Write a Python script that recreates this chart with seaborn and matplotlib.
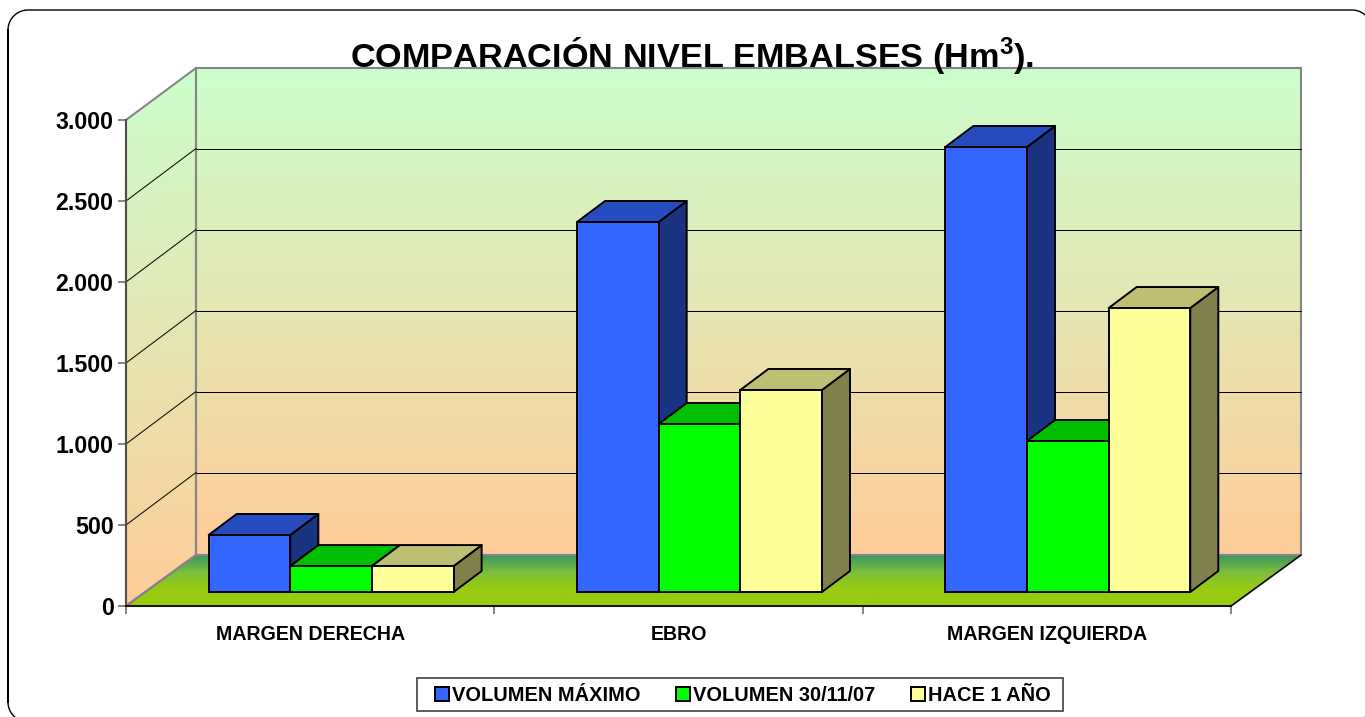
import numpy as np
import pandas as pd
import matplotlib.pyplot as plt
import seaborn as sns
from matplotlib.colors import LinearSegmentedColormap
from matplotlib.lines import Line2D
from matplotlib.patches import Polygon, Rectangle
from matplotlib.transforms import IdentityTransform, ScaledTranslation

# data
zonas = ['MARGEN DERECHA', 'EBRO', 'MARGEN IZQUIERDA']
series = ['VOLUMEN MÁXIMO', 'VOLUMEN 30/11/07', 'HACE 1 AÑO']
vol_maximo = [352, 2284, 2747]
vol_actual = [160, 1037, 932]
vol_hace_1 = [160, 1247, 1753]
y_ticks = [0, 500, 1000, 1500, 2000, 2500, 3000]
y_labels = ['0', '500', '1.000', '1.500', '2.000', '2.500', '3.000']

front_colors = ['#3366FF', '#00FF00', '#FFFF99']
top_colors = ['#264CBF', '#00BF00', '#BFBF73']
side_colors = ['#1A3380', '#008000', '#80804D']

df = pd.DataFrame({
    'zona': zonas * 3,
    'serie': np.repeat(series, 3),
    'volumen': vol_maximo + vol_actual + vol_hace_1,
})

sns.set_style('white')
plt.rcParams['font.family'] = ['Liberation Sans', 'DejaVu Sans']
plt.rcParams['font.weight'] = 'bold'
plt.rcParams['text.color'] = 'black'
plt.rcParams['mathtext.fontset'] = 'custom'
plt.rcParams['mathtext.bf'] = 'Liberation Sans:bold'

W, H = 1365, 717
fig = plt.figure(figsize=(W / 100, H / 100), dpi=100)

# background layer in picture pixels: frame, walls and floor
bg = fig.add_axes([0, 0, 1, 1], zorder=0)
bg.axis('off')

left, right, bottom, top = 126, 1231, 606, 120
depth_x, depth_y = 70, 51
back_bottom, back_top = bottom - depth_y, top - depth_y - 1

wall_cmap = LinearSegmentedColormap.from_list('wall', ['#CCFFCC', '#FFCC99'])
floor_cmap = LinearSegmentedColormap.from_list('floor', ['#3A9566', '#7DBE3A', '#99CC11', '#99CC11'])
ramp = np.linspace(0, 1, 256).reshape(-1, 1)

back_wall = [(left + depth_x, back_top), (right + depth_x, back_top),
             (right + depth_x, back_bottom), (left + depth_x, back_bottom)]
side_wall = [(left, top), (left + depth_x, back_top), (left + depth_x, back_bottom), (left, bottom)]
floor = [(left, bottom), (left + depth_x, back_bottom), (right + depth_x, back_bottom), (right, bottom)]

for poly, cmap, y0, y1 in [(back_wall, wall_cmap, back_top, back_bottom),
                           (side_wall, wall_cmap, back_top, bottom),
                           (floor, floor_cmap, back_bottom, bottom)]:
    im = bg.imshow(ramp, cmap=cmap, aspect='auto', extent=[left, right + depth_x, y1, y0], zorder=1)
    clip = Polygon(poly, closed=True, transform=bg.transData)
    im.set_clip_path(clip)
    bg.add_patch(Polygon(poly, closed=True, fill=False, edgecolor='#858585', linewidth=1.5, zorder=2))

bg.add_line(Line2D([right, right + depth_x], [bottom, back_bottom], color='black', linewidth=1, zorder=3))

# outer rounded frame, drawn as a polyline because it runs off the canvas
fx0, fx1, fy0, fy1, r = 8, 1372, 10, 722, 20
t = np.linspace(0, np.pi / 2, 20)
frame_x = np.concatenate([[fx0], fx0 + r - r * np.cos(t), fx1 - r + r * np.sin(t),
                          fx1 - r + r * np.cos(t), fx0 + r - r * np.sin(t), [fx0]])
frame_y = np.concatenate([[fy1 - r], fy0 + r - r * np.sin(t), fy0 + r - r * np.cos(t),
                          fy1 - r + r * np.sin(t), fy1 - r + r * np.cos(t), [fy0 + r]])
bg.add_line(Line2D(frame_x, frame_y, color='black', linewidth=1))

bg.add_patch(Rectangle((417, 678), 646, 33, facecolor='white', edgecolor='#404040', linewidth=1.2))
bg.set_xlim(0, W)
bg.set_ylim(H, 0)

# chart axes, front plane of the 3D box
ax = fig.add_axes([left / W, (H - bottom) / H, (right - left) / W, (bottom - top) / H], zorder=1)
ax.patch.set_visible(False)
sns.barplot(data=df, x='zona', y='volumen', hue='serie', hue_order=series, order=zonas,
            palette=front_colors, width=0.665, gap=0, saturation=1,
            edgecolor='black', linewidth=1.4, ax=ax)
ax.set_xlim(-0.5, 2.5)
ax.set_ylim(0, 3000)
ax.set_xlabel('')
ax.set_ylabel('')
ax.set_yticks(y_ticks, y_labels, fontsize=16.7, fontweight='bold')
ax.set_xticks(range(len(zonas)), zonas, fontsize=14.1, fontweight='bold')
ax.set_xticks([-0.5, 0.5, 1.5, 2.5], minor=True)
ax.tick_params(axis='x', which='major', length=0, pad=14, labelcolor='black')
ax.tick_params(axis='x', which='minor', length=6, width=1.2, color='#707070', bottom=True)
ax.tick_params(axis='y', length=6, width=1.2, color='#707070', pad=3, left=True, labelcolor='black')
for name in ['top', 'right']:
    ax.spines[name].set_visible(False)
ax.spines['left'].set_color('#505050')
ax.spines['left'].set_linewidth(1.5)
ax.spines['bottom'].set_color('black')
ax.spines['bottom'].set_linewidth(1.2)
ax.spines['left'].set_zorder(1)
ax.spines['bottom'].set_zorder(1)

fig.canvas.draw()
pixel = IdentityTransform()

# grid lines run over the side wall and along the back wall
for v in y_ticks[1:-1]:
    x0, y0 = ax.transData.transform((-0.5, v))
    x1, y1 = ax.transData.transform((2.5, v))
    back_y = round(y0 + depth_y + 1) + 0.5
    ax.add_line(Line2D([x0, x0 + depth_x], [y0, back_y],
                       color='black', linewidth=0.72, transform=pixel, clip_on=False, zorder=1))
    ax.add_line(Line2D([x0 + depth_x, x1 + depth_x], [back_y, back_y],
                       color='black', linewidth=0.72, transform=pixel, clip_on=False, zorder=1))

# front face sits partway into the box, depth faces are built from each bar
shift_x, shift_y = 21, 14
bar_dx, bar_dy = 28, 21
shift = ScaledTranslation(shift_x / 100, shift_y / 100, fig.dpi_scale_trans)
bars = []
for i, cont in enumerate(ax.containers):
    for patch in cont.patches:
        bars.append((patch.get_x(), i, patch))
bars.sort(key=lambda b: b[0])

z = 3
for _, i, patch in bars:
    x0, y0 = ax.transData.transform((patch.get_x(), 0))
    x1, y1 = ax.transData.transform((patch.get_x() + patch.get_width(), patch.get_height()))
    x0, x1 = x0 + shift_x, x1 + shift_x
    y0, y1 = y0 + shift_y, y1 + shift_y
    side = [(x1, y0), (x1 + bar_dx, y0 + bar_dy), (x1 + bar_dx, y1 + bar_dy), (x1, y1)]
    cap = [(x0, y1), (x0 + bar_dx, y1 + bar_dy), (x1 + bar_dx, y1 + bar_dy), (x1, y1)]
    for pts, col in [(side, side_colors[i]), (cap, top_colors[i])]:
        ax.add_patch(Polygon(pts, closed=True, facecolor=col, edgecolor='black', linewidth=1.4,
                             transform=pixel, clip_on=False, zorder=z, joinstyle='round'))
    patch.set_transform(ax.transData + shift)
    patch.set_clip_on(False)
    patch.set_zorder(z + 1)
    z += 2

# legend, its box is the rectangle on the background layer
handles, labels = ax.get_legend_handles_labels()
ax.get_legend().remove()
leg = fig.legend(handles, labels, ncol=3, loc='center', bbox_to_anchor=(743 / W, (H - 695.5) / H),
                 fontsize=14.4, frameon=False, handlelength=0.7, handleheight=0.7,
                 handletextpad=0.15, columnspacing=1.8, borderpad=0, borderaxespad=0)

fig.text(692, H - 68, r'COMPARACIÓN NIVEL EMBALSES (Hm$^{\mathbf{3}}$).', transform=pixel,
         ha='center', va='baseline', fontsize=24.7, fontweight='bold', zorder=5)

fig.savefig('out.png', dpi=100)
